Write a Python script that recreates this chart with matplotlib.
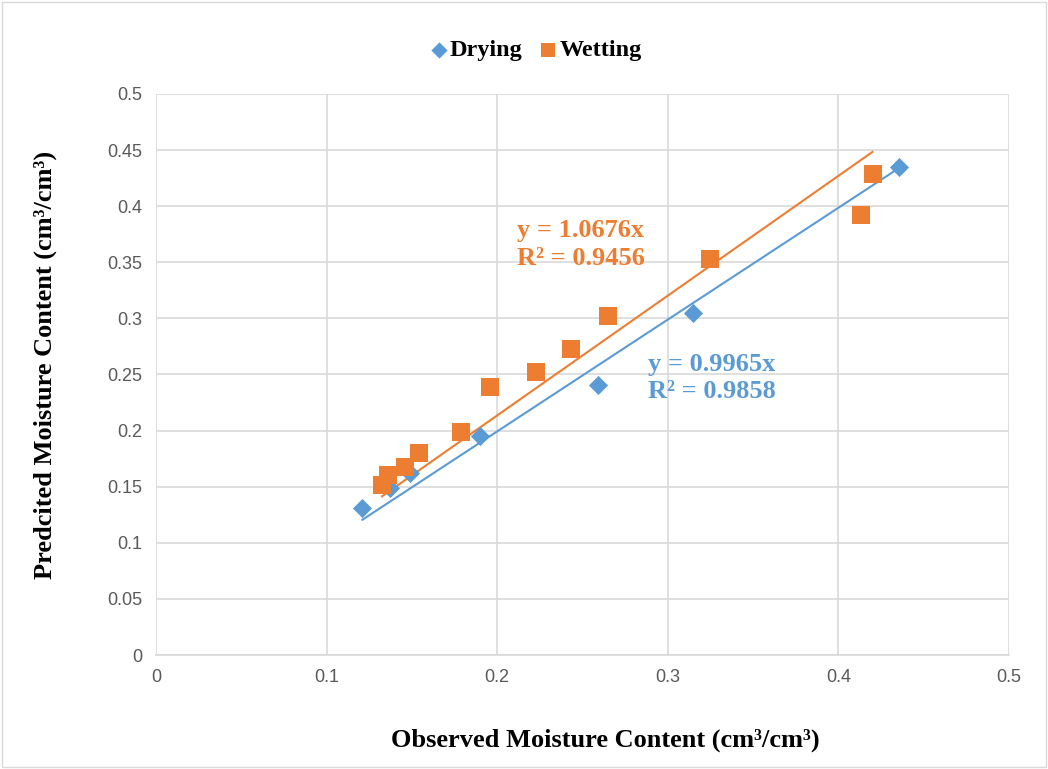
import numpy as np
import matplotlib.pyplot as plt

# observed vs predicted moisture content (cm3/cm3)
drying_obs = [0.121, 0.137, 0.149, 0.190, 0.259, 0.315, 0.4355]
drying_pred = [0.131, 0.149, 0.162, 0.195, 0.241, 0.305, 0.435]

wetting_obs = [0.1325, 0.136, 0.146, 0.154, 0.179, 0.196, 0.223, 0.243, 0.265, 0.325, 0.413, 0.420]
wetting_pred = [0.1515, 0.160, 0.168, 0.180, 0.199, 0.239, 0.252, 0.273, 0.302, 0.353, 0.392, 0.429]

# trendline slopes (through origin)
slope_dry = 0.9965
slope_wet = 1.0676
r2_dry = 0.9858
r2_wet = 0.9456

blue = '#5b9bd5'
orange = '#ed7d31'
serif = 'Liberation Serif'
sans = 'Liberation Sans'

fig = plt.figure(figsize=(10.48, 7.69), dpi=100)
ax = fig.add_axes([156 / 1048, 1 - 655 / 769, (1009 - 156) / 1048, (655 - 94) / 769])

# grid
ax.set_xlim(0, 0.5)
ax.set_ylim(0, 0.5)
ax.set_xticks(np.arange(0, 0.51, 0.1))
ax.set_yticks(np.arange(0, 0.51, 0.05))
ax.set_xticklabels(['0', '0.1', '0.2', '0.3', '0.4', '0.5'])
ax.set_yticklabels(['0', '0.05', '0.1', '0.15', '0.2', '0.25', '0.3', '0.35', '0.4', '0.45', '0.5'])
ax.grid(color='#d9d9d9', linewidth=1.2)
ax.set_axisbelow(True)
for s in ['top', 'right', 'left']:
    ax.spines[s].set_visible(False)
ax.spines['bottom'].set_color('#d9d9d9')
ax.spines['bottom'].set_linewidth(1.2)
ax.tick_params(length=0, labelsize=13, labelcolor='#595959', pad=10)
for lbl in ax.get_xticklabels() + ax.get_yticklabels():
    lbl.set_fontfamily(sans)

# trendlines
xd = np.array([min(drying_obs), max(drying_obs)])
ax.plot(xd, slope_dry * xd, color=blue, linewidth=1.5, zorder=2)
xw = np.array([min(wetting_obs), max(wetting_obs)])
ax.plot(xw, slope_wet * xw, color=orange, linewidth=1.5, zorder=2)

# points
ax.scatter(drying_obs, drying_pred, marker='D', s=95, color=blue, label='Drying', zorder=3, linewidths=0)
ax.scatter(wetting_obs, wetting_pred, marker='s', s=150, color=orange, label='Wetting', zorder=4, linewidths=0)

# equations
ax.text(0.2116, 0.366, 'y = %.4fx\nR² = %.4f' % (slope_wet, r2_wet), color=orange,
        fontsize=19, fontweight='bold', fontfamily=serif, va='center', linespacing=1.25)
ax.text(0.2884, 0.247, 'y = %.4fx\nR² = %.4f' % (slope_dry, r2_dry), color=blue,
        fontsize=19, fontweight='bold', fontfamily=serif, va='center', linespacing=1.25)

# axis titles
fig.text(605 / 1048, 1 - 740 / 769, 'Observed Moisture Content (cm³/cm³)', fontsize=19,
         fontweight='bold', fontfamily=serif, ha='center', va='center')
fig.text(45 / 1048, 1 - 365 / 769, 'Predcited Moisture Content (cm³/cm³)', fontsize=19,
         fontweight='bold', fontfamily=serif, ha='center', va='center', rotation=90)

fig.legend(loc='center', bbox_to_anchor=(533 / 1048, 1 - 50 / 769), ncol=2, frameon=False,
           prop={'family': serif, 'weight': 'bold', 'size': 17.5}, handletextpad=-0.15,
           handlelength=1.2, columnspacing=0.45, markerscale=0.85)

# figure frame
fig.patches.append(plt.Rectangle((0.002, 0.002), 0.996, 0.996, transform=fig.transFigure,
                                 fill=False, edgecolor='#d9d9d9', linewidth=1))

fig.savefig('out.png', dpi=100)
